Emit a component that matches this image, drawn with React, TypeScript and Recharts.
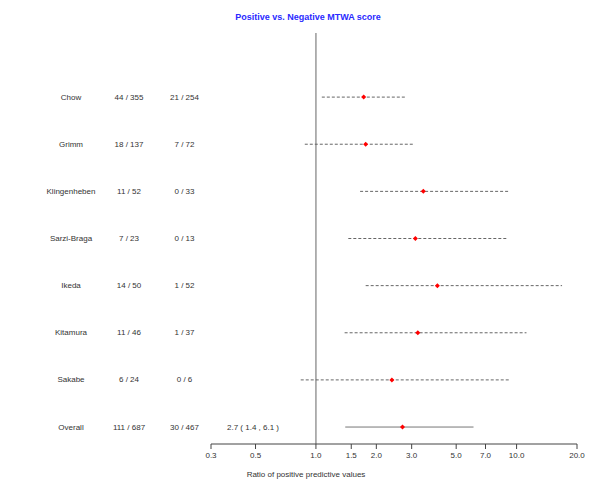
import { ScatterChart, Scatter, XAxis, YAxis, ReferenceLine } from "recharts";

const studies = ["Chow", "Grimm", "Klingenheben", "Sarzi-Braga", "Ikeda", "Kitamura", "Sakabe", "Overall"];
const positiveCounts = ["44 / 355", "18 / 137", "11 / 52", "7 / 23", "14 / 50", "11 / 46", "6 / 24", "111 / 687"];
const negativeCounts = ["21 / 254", "7 / 72", "0 / 33", "0 / 13", "1 / 52", "1 / 37", "0 / 6", "30 / 467"];
const ratios = [1.73, 1.77, 3.43, 3.13, 4.03, 3.22, 2.39, 2.7];
const lower = [1.07, 0.88, 1.66, 1.45, 1.77, 1.39, 0.84, 1.4];
const upper = [2.8, 3.11, 9.12, 9.0, 16.85, 11.2, 9.23, 6.1];
const overallText = "2.7 ( 1.4 , 6.1 )";
const xTicks = [0.3, 0.5, 1, 1.5, 2, 3, 5, 7, 10, 20];

const rows = studies.map((_, i) => i);
const points = ratios.map((r, i) => ({ x: r, y: i }));
const intervals = studies.map((_, i) => [
  { x: lower[i], y: i },
  { x: upper[i], y: i },
]);

const font = "'Liberation Sans', Arial, sans-serif";
const textColor = "#333";

function RowTick({ y, payload }: { y?: number; payload?: { value: number } }) {
  const i = payload?.value ?? 0;
  const common = { y, fontSize: 8, fill: textColor, textAnchor: "middle" as const, dominantBaseline: "central" as const, fontFamily: font };
  return (
    <g>
      <text x={71} {...common}>{studies[i]}</text>
      <text x={129} {...common}>{positiveCounts[i]}</text>
      <text x={184.5} {...common}>{negativeCounts[i]}</text>
      {i === studies.length - 1 && <text x={253} {...common}>{overallText}</text>}
    </g>
  );
}

function Diamond({ cx, cy }: { cx?: number; cy?: number }) {
  if (cx == null || cy == null) return <g />;
  return <polygon points={`${cx},${cy - 2.5} ${cx + 2.5},${cy} ${cx},${cy + 2.5} ${cx - 2.5},${cy}`} fill="#ff0000" />;
}

export default function App() {
  return (
    <div style={{ position: "absolute", left: 0, top: 0, width: 600, height: 486, background: "#fff" }}>
      <div
        style={{
          position: "absolute",
          top: 12,
          left: 208,
          width: 200,
          textAlign: "center",
          fontFamily: font,
          fontSize: 9,
          fontWeight: "bold",
          color: "#2a2aff",
        }}
      >
        Positive vs. Negative MTWA score
      </div>
      <ScatterChart width={600} height={486} margin={{ top: 33, right: 23, bottom: 0, left: 0 }}>
        <XAxis
          type="number"
          dataKey="x"
          scale="log"
          domain={[0.3, 20]}
          ticks={xTicks}
          allowDataOverflow
          tickFormatter={(v: number) => v.toFixed(1)}
          tick={{ fontSize: 8, fill: textColor, fontFamily: font }}
          tickSize={5}
          tickMargin={3}
          stroke="#444"
          height={42}
          label={{
            content: () => (
              <text x={306} y={474} fontSize={8} fill={textColor} textAnchor="middle" dominantBaseline="central" fontFamily={font}>
                Ratio of positive predictive values
              </text>
            ),
          }}
        />
        <YAxis
          type="number"
          dataKey="y"
          domain={[-1.36, 7.36]}
          reversed
          ticks={rows}
          interval={0}
          width={211}
          axisLine={false}
          tickLine={false}
          tick={<RowTick />}
        />
        <ReferenceLine x={1} stroke="#999" strokeWidth={1.5} />
        {intervals.map((seg, i) => (
          <Scatter
            key={studies[i]}
            data={seg}
            line={{
              stroke: i === studies.length - 1 ? "#777" : "#666",
              strokeWidth: 1,
              strokeDasharray: i === studies.length - 1 ? undefined : "3 2",
            }}
            shape={() => <g />}
            isAnimationActive={false}
          />
        ))}
        <Scatter data={points} shape={<Diamond />} isAnimationActive={false} />
      </ScatterChart>
    </div>
  );
}
